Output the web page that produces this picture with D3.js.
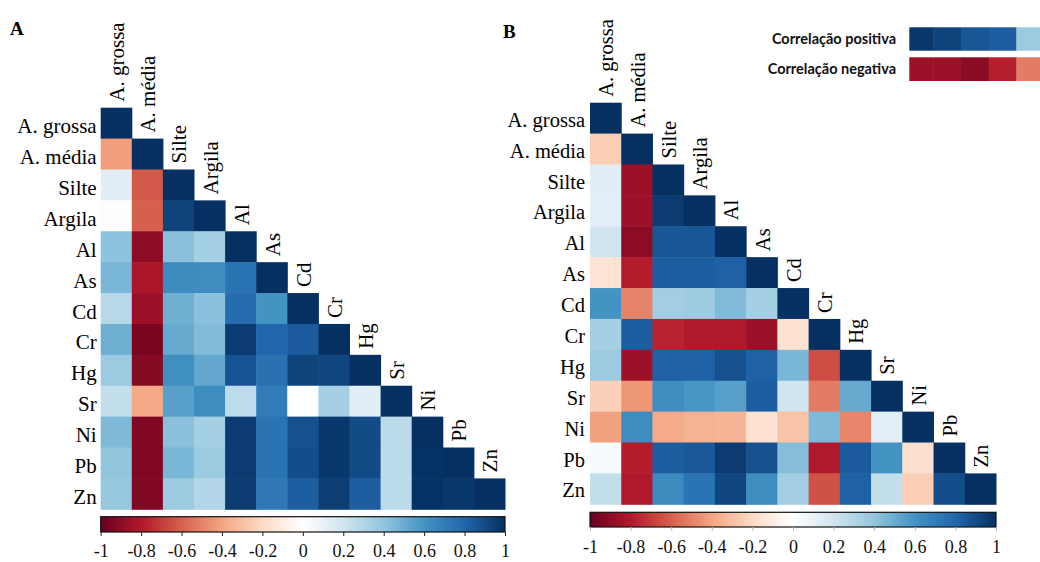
<!DOCTYPE html>
<html>
<head>
<meta charset="utf-8">
<script src="https://cdn.jsdelivr.net/npm/d3@7"></script>
<style>
  html, body { margin: 0; padding: 0; background: #fff; }
  svg { display: block; }
</style>
</head>
<body>
<svg id="chart" width="1040" height="562"></svg>
<script>
// variáveis (mesma ordem nas linhas e colunas)
const variaveis = ["A. grossa", "A. média", "Silte", "Argila", "Al", "As", "Cd", "Cr", "Hg", "Sr", "Ni", "Pb", "Zn"];

// matriz A - triângulo inferior
const corrA = [
  [1],
  [-0.42, 1],
  [0.13, -0.62, 1],
  [-0.01, -0.6, 0.93, 1],
  [0.41, -0.9, 0.42, 0.34, 1],
  [0.46, -0.82, 0.64, 0.63, 0.74, 1],
  [0.28, -0.86, 0.49, 0.42, 0.77, 0.6, 1],
  [0.49, -0.95, 0.51, 0.44, 0.96, 0.8, 0.84, 1],
  [0.37, -0.92, 0.62, 0.52, 0.87, 0.75, 0.93, 0.92, 1],
  [0.24, -0.39, 0.55, 0.63, 0.26, 0.7, 0.0, 0.34, 0.13, 1],
  [0.45, -0.93, 0.42, 0.34, 0.96, 0.74, 0.88, 0.97, 0.9, 0.27, 1],
  [0.4, -0.93, 0.46, 0.37, 0.96, 0.74, 0.89, 0.97, 0.9, 0.27, 0.99, 1],
  [0.39, -0.93, 0.37, 0.3, 0.96, 0.72, 0.83, 0.95, 0.83, 0.27, 0.99, 0.97, 1]
];

// matriz B
const corrB = [
  [1],
  [-0.25, 1],
  [0.13, -0.86, 1],
  [0.12, -0.86, 0.96, 1],
  [0.2, -0.9, 0.86, 0.86, 1],
  [-0.15, -0.79, 0.83, 0.83, 0.82, 1],
  [0.6, -0.5, 0.35, 0.36, 0.44, 0.34, 1],
  [0.34, 0.83, -0.77, -0.8, -0.8, -0.86, -0.16, 1],
  [0.37, -0.86, 0.82, 0.82, 0.88, 0.82, 0.46, -0.65, 1],
  [-0.24, -0.44, 0.63, 0.59, 0.55, 0.83, 0.2, -0.52, 0.51, 1],
  [-0.41, 0.63, -0.38, -0.35, -0.34, -0.16, -0.29, 0.45, -0.49, 0.12, 1],
  [0.04, -0.79, 0.83, 0.85, 0.96, 0.88, 0.43, -0.8, 0.84, 0.6, -0.17, 1],
  [0.24, -0.8, 0.64, 0.74, 0.92, 0.63, 0.35, -0.64, 0.82, 0.24, -0.25, 0.89, 1]
];

const escalaTicks = [-1, -0.8, -0.6, -0.4, -0.2, 0, 0.2, 0.4, 0.6, 0.8, 1];

// legenda do painel B
const legendaTextos = ["Correlação positiva", "Correlação negativa"];
const legendaPositiva = [0.97, 0.93, 0.86, 0.83, 0.37];
const legendaNegativa = [-0.86, -0.86, -0.91, -0.78, -0.52];

// paleta RdBu (corrplot)
const paleta = ["#67001F", "#B2182B", "#D6604D", "#F4A582", "#FDDBC7", "#FFFFFF",
                "#D1E5F0", "#92C5DE", "#4393C3", "#2166AC", "#053061"];
const cor = d3.scaleLinear()
  .domain(escalaTicks)
  .range(paleta)
  .interpolate(d3.interpolateRgb)
  .clamp(true);

const svg = d3.select("#chart");
const serif = "Liberation Serif, Times New Roman, serif";

function desenhaPainel(cfg) {
  const g = svg.append("g");
  const x = d3.scaleBand().domain(variaveis).range([cfg.x0, cfg.x1]);
  const y = d3.scaleBand().domain(variaveis).range([cfg.y0, cfg.y1]);

  const celulas = [];
  cfg.dados.forEach((linha, i) => {
    linha.forEach((v, j) => celulas.push({lin: variaveis[i], col: variaveis[j], v}));
  });

  g.append("g").selectAll("rect")
    .data(celulas)
    .join("rect")
    .attr("x", d => x(d.col))
    .attr("y", d => y(d.lin))
    .attr("width", x.bandwidth() + 0.5)
    .attr("height", y.bandwidth() + 0.5)
    .attr("fill", d => cor(d.v));

  // rótulos das linhas
  g.append("g").selectAll("text")
    .data(variaveis)
    .join("text")
    .attr("x", cfg.x0 - cfg.rowGap)
    .attr("y", d => y(d) + y.bandwidth() / 2)
    .attr("dy", cfg.rowDy)
    .attr("text-anchor", "end")
    .attr("font-family", serif)
    .attr("font-size", cfg.fonte)
    .text(d => d);

  // rótulos das colunas (acima da diagonal)
  g.append("g").selectAll("text")
    .data(variaveis)
    .join("text")
    .attr("transform", d => `translate(${x(d) + x.bandwidth() / 2},${y(d) - cfg.colGap}) rotate(-90)`)
    .attr("dy", cfg.colDy)
    .attr("text-anchor", "start")
    .attr("font-family", serif)
    .attr("font-size", cfg.fonte)
    .text(d => d);

  // título
  g.append("text")
    .attr("x", cfg.tx)
    .attr("y", cfg.ty)
    .attr("font-family", serif)
    .attr("font-weight", "bold")
    .attr("font-size", 19)
    .text(cfg.letra);

  // barra de cores
  const gradId = "grad" + cfg.letra;
  const grad = svg.append("defs").append("linearGradient")
    .attr("id", gradId)
    .attr("x1", "0%").attr("x2", "100%");
  d3.range(0, 1.0001, 0.02).forEach(t => {
    grad.append("stop")
      .attr("offset", (t * 100) + "%")
      .attr("stop-color", cor(-1 + 2 * t));
  });

  const xb = d3.scaleLinear().domain([-1, 1]).range([cfg.x0, cfg.x1]);
  g.append("rect")
    .attr("x", cfg.x0)
    .attr("y", cfg.by0)
    .attr("width", cfg.x1 - cfg.x0)
    .attr("height", cfg.by1 - cfg.by0)
    .attr("fill", `url(#${gradId})`)
    .attr("stroke", "#111")
    .attr("stroke-width", 1.2);

  const eixo = g.append("g")
    .attr("transform", `translate(0,${cfg.by1})`)
    .attr("font-family", serif)
    .attr("font-size", 18)
    .call(d3.axisBottom(xb)
      .tickValues(escalaTicks)
      .tickSize(4)
      .tickPadding(cfg.tickPad)
      .tickFormat(d => String(+d.toFixed(1))));
  eixo.attr("font-family", serif).attr("font-size", 18);
  eixo.select(".domain").remove();
  eixo.selectAll(".tick line").attr("stroke", cfg.tickCor);
  eixo.selectAll("text").attr("fill", "#111");
}

desenhaPainel({
  letra: "A", dados: corrA,
  x0: 100.7, x1: 505, y0: 107.7, y1: 509.3,
  by0: 516.7, by1: 532,
  fonte: 21, rowGap: 4, rowDy: "0.48em", colGap: 6, colDy: "0.38em",
  tx: 10, ty: 35, tickCor: "#222", tickPad: 8
});

desenhaPainel({
  letra: "B", dados: corrB,
  x0: 590, x1: 996, y0: 102.7, y1: 504.3,
  by0: 512.3, by1: 527,
  fonte: 20.5, rowGap: 5, rowDy: "0.42em", colGap: 6, colDy: "0.38em",
  tx: 503, ty: 38, tickCor: "#bbb", tickPad: 9
});

// legenda do painel B
const legenda = svg.append("g");
const segX = d3.scaleBand().domain(d3.range(legendaPositiva.length)).range([905.5, 1044]);
const linhas = [
  {texto: legendaTextos[0], vals: legendaPositiva, y0: 27.3, y1: 50.7, base: 43.5},
  {texto: legendaTextos[1], vals: legendaNegativa, y0: 57.3, y1: 81, base: 74}
];
linhas.forEach(l => {
  legenda.append("g").selectAll("rect")
    .data(l.vals)
    .join("rect")
    .attr("x", (d, i) => Math.max(909.3, segX(i)))
    .attr("y", l.y0)
    .attr("width", (d, i) => segX(i) + segX.bandwidth() + 0.5 - Math.max(909.3, segX(i)))
    .attr("height", l.y1 - l.y0)
    .attr("fill", d => cor(d));
  legenda.append("text")
    .attr("x", 896)
    .attr("y", l.base)
    .attr("text-anchor", "end")
    .attr("font-family", "Lato, Open Sans, sans-serif")
    .attr("font-weight", "bold")
    .attr("font-size", 14.5)
    .attr("fill", "#111")
    .text(l.texto);
});
</script>
</body>
</html>
